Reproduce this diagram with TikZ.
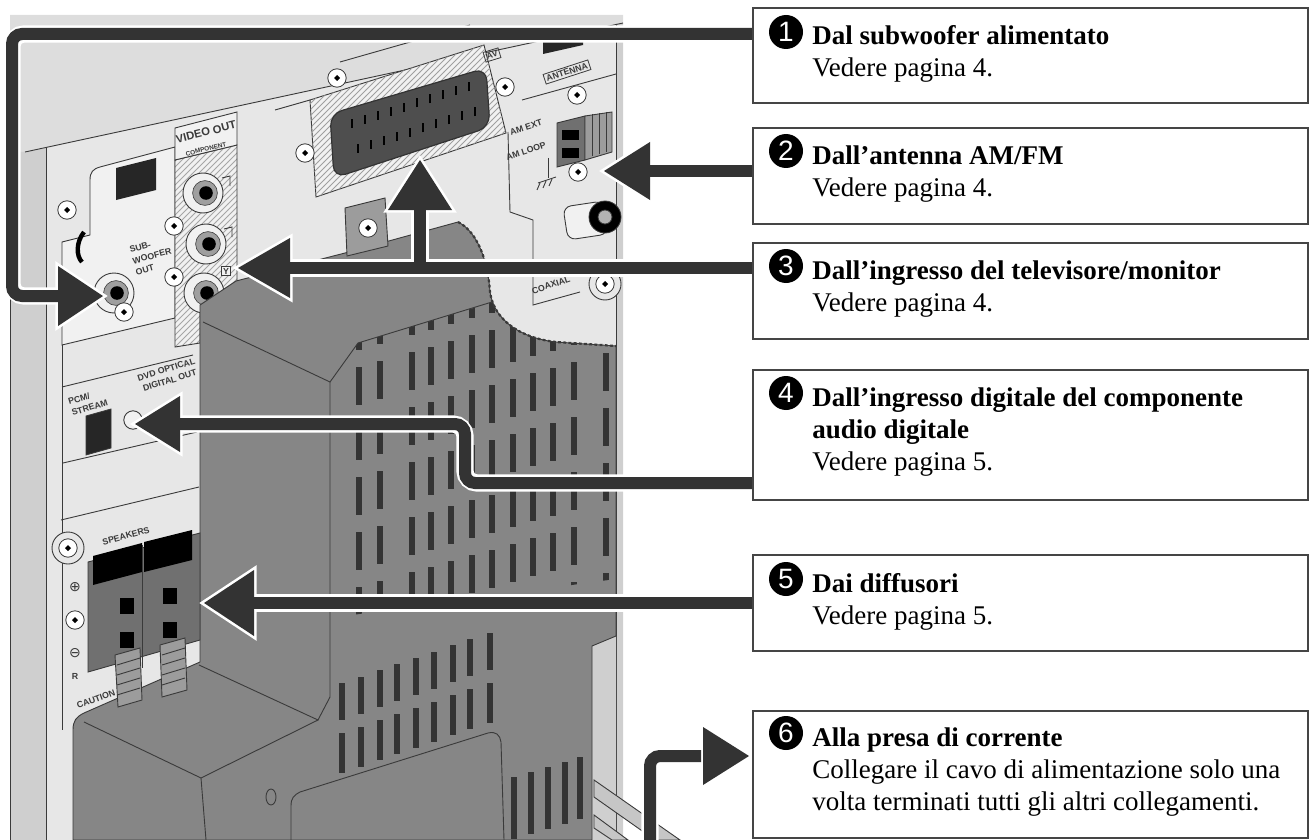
\documentclass[tikz,border=0pt]{standalone}
\usepackage{fontspec}
\setmainfont{Liberation Serif}
\setsansfont{Liberation Sans}
\newfontfamily\symfont{DejaVu Sans}
\usetikzlibrary{patterns}

\definecolor{devtop}{HTML}{DDDDDD}
\definecolor{devface}{HTML}{E7E7E7}
\definecolor{devlight}{HTML}{F1F1F1}
\definecolor{devside}{HTML}{CFCFCF}
\definecolor{bodyc}{HTML}{868686}
\definecolor{linec}{HTML}{3A3A3A}
\definecolor{ventc}{HTML}{343434}
\definecolor{arrowc}{HTML}{333333}
\definecolor{boxline}{HTML}{454545}
\definecolor{connc}{HTML}{4E4E4E}
\definecolor{midgray}{HTML}{9C9C9C}
\definecolor{termc}{HTML}{707070}

\newcommand{\bodyoutline}{(200,305) -- (236,281) -- (345,253) -- (458,222)
  .. controls (478,232) and (488,262) .. (490,292)
  .. controls (494,320) and (520,338) .. (556,342)
  -- (616,346) -- (616,636) -- (592,646) -- (592,840) -- (73,840) -- (73,730)
  .. controls (73,721) and (76,717) .. (84,713) -- (200,662) -- cycle}

\begin{document}
\begin{tikzpicture}[x=0.5pt,y=-0.5pt,
  tbox/.style={draw=boxline,line width=0.8pt,fill=white,anchor=north west,inner sep=0pt,minimum width=277.5pt},
  numc/.style={circle,fill=black,text=white,inner sep=0pt,minimum size=17pt,font=\sffamily\fontsize{14}{14}\selectfont},
  ttl/.style={anchor=base west,inner sep=0pt,font=\fontsize{13.5}{16}\selectfont\bfseries},
  txt/.style={anchor=base west,inner sep=0pt,font=\fontsize{13.5}{16}\selectfont},
  lbl/.style={inner sep=0pt,text=linec,align=center,font=\sffamily\bfseries\fontsize{4.4}{5.8}\selectfont},
  partln/.style={draw=linec,line width=0.45pt},
  shaftw/.style={line width=8.6pt,white,rounded corners=6pt},
  shaftd/.style={line width=6pt,arrowc,rounded corners=5pt},
  headw/.style={fill=white,draw=white,line width=2.6pt,line join=miter},
  headd/.style={fill=arrowc},
  screw/.pic={
    \filldraw[fill=white,draw=linec,line width=0.4pt] (0,0) circle[radius=4.6pt];
    \fill[black] (-3,0) -- (0,-3) -- (3,0) -- (0,3) -- cycle;},
  jack/.pic={
    \filldraw[fill=devlight,draw=linec,line width=0.45pt] (0,0) circle[radius=10pt];
    \filldraw[fill=gray!75,draw=linec,line width=0.3pt] (2,0) circle[radius=6.2pt];
    \fill[black] (3,0) circle[radius=3.4pt];}
]
\useasboundingbox (0,0) rectangle (1312,840);

% ---------------- device shell
\fill[devface] (10,15) rectangle (623,840);
\fill[devtop] (10,15) -- (623,15) -- (623,23) -- (25,152) -- (10,152) -- cycle;
\fill[devside] (10,152) -- (25,152) -- (46,148) -- (46,840) -- (10,840) -- cycle;
\fill[devside] (616,24) -- (623,23) -- (623,840) -- (616,840) -- cycle;
\draw[partln] (25,152) -- (623,23);
\draw[partln] (46,148) -- (46,840);
\draw[partln] (616,24) -- (616,840);
\draw[partln] (10,152) -- (10,840);
\fill[black!85] (543,40) -- (583,31) -- (583,45) -- (543,54) -- cycle;

% ---------------- sub-woofer panel
\filldraw[fill=devlight,partln] (62,345) -- (62,242) -- (90,235) -- (90,180)
  .. controls (90,172) and (93,169) .. (100,167) -- (175,147) -- (175,318) -- cycle;
\fill[black!85] (116,168) -- (156,158) -- (156,190) -- (116,200) -- cycle;
\draw[black,line width=2.2pt] (84,232) .. controls (76,242) and (76,256) .. (82,262);
\pic at (67,210) {screw};
\pic at (114,293) {jack};
\pic at (124,312) {screw};
\node[lbl,rotate=15,align=left] (lsub) at (152,256) {SUB-\\WOOFER\\OUT};

% ---------------- panel lines left
\draw[partln] (62,387) -- (193,355);
\draw[partln] (63,463) -- (197,432);
\draw[partln] (61,520) -- (199,487);
\draw[partln] (62,345) -- (62,730);

% ---------------- video out column
\fill[devlight] (175,160) -- (237,145) -- (237,285) -- (200,305) -- (200,343) -- (175,347) -- cycle;
\fill[pattern=north east lines,pattern color=gray!70] (175,160) -- (237,145) -- (237,285) -- (200,305) -- (200,343) -- (175,347) -- cycle;
\draw[partln] (175,160) -- (237,145) -- (237,285) -- (200,305) -- (200,343) -- (175,347) -- cycle;
\filldraw[fill=devlight,partln] (175,128) -- (237,112) -- (237,145) -- (175,160) -- cycle;
\node[lbl,rotate=14,font=\sffamily\bfseries\fontsize{5.6}{6}\selectfont] (lvo) at (206,132) {VIDEO OUT};
\node[lbl,rotate=14,font=\sffamily\bfseries\fontsize{3.2}{3.5}\selectfont] (lcomp) at (206,149) {COMPONENT};
\pic at (203,193) {jack};
\pic at (206,244) {jack};
\pic at (204,293) {jack};
\pic at (174,226) {screw};
\pic at (174,277) {screw};
\node[lbl,draw=linec,fill=devlight,inner sep=0.8pt] (ly) at (226,271) {Y};
\draw[partln] (222,178) -- (230,176) -- (230,186);
\draw[partln] (224,229) -- (232,227) -- (232,237);

% ---------------- SCART
\filldraw[fill=devlight,partln] (310,100) -- (484,45) -- (506,133) -- (316,197) -- cycle;
\fill[pattern=north east lines,pattern color=gray!75] (310,100) -- (484,45) -- (506,133) -- (316,197) -- cycle;
\filldraw[fill=connc,draw=black!80,line width=0.6pt,rounded corners=6pt] (330,114) -- (486,68) -- (490,127) -- (334,178) -- cycle;
\foreach \i in {0,...,9} {
  \draw[black,line width=1.2pt] (352+13*\i,{128-4.1*\i}) -- ++(0,-9);
  \draw[black,line width=1.2pt] (358+13*\i,{153-4.1*\i}) -- ++(0,-9);
}
\node[lbl,draw=linec,inner sep=1pt,rotate=17] (lav) at (492,55) {AV};
\pic at (337,78) {screw};
\pic at (505,87) {screw};
\pic at (305,153) {screw};
\draw[partln] (275,110) -- (310,100);
\draw[partln] (340,62) -- (470,25);

% ---------------- antenna panel
\draw[partln] (508,132) -- (510,212) -- (533,220) -- (533,305) -- (580,292);
\draw[partln] (522,100) -- (616,74);
\node[lbl,draw=linec,inner sep=1pt,rotate=18] (lant) at (567,72) {ANTENNA};
\pic at (577,95) {screw};
\node[lbl,rotate=18] (lamext) at (526,127) {AM EXT};
\node[lbl,rotate=18] (lamloop) at (526,151) {AM LOOP};
\filldraw[fill=termc,partln] (557,123) -- (585,116) -- (585,160) -- (557,167) -- cycle;
\filldraw[fill=midgray,partln] (585,116) -- (612,112) -- (612,152) -- (585,160) -- cycle;
\foreach \xx in {592,599,606} {\draw[partln] (\xx,{115-0.15*(\xx-585)}) -- (\xx,{158-0.3*(\xx-585)});}
\fill[black] (562,130) rectangle (579,140);
\fill[black] (562,148) rectangle (579,158);
\pic at (578,172) {screw};
\draw[partln] (548,158) -- (548,178);
\draw[partln] (538,183) -- (556,177);
\draw[partln] (540,183) -- (537,190) (546,181) -- (543,188) (552,179) -- (549,186);
\filldraw[fill=devlight,partln,rounded corners=4pt] (563,207) -- (603,201) -- (608,234) -- (568,240) -- cycle;
\filldraw[fill=black,draw=linec] (605,217) circle[radius=8pt];
\filldraw[fill=gray!60,draw=linec] (605,217) circle[radius=3.5pt];
\node[lbl,rotate=18] (lcoax) at (551,285) {COAXIAL};
\filldraw[fill=devface,partln] (605,284) circle[radius=8pt];
\pic at (605,284) {screw};

% ---------------- dark body
\fill[devside] (592,646) -- (616,636) -- (616,840) -- (592,840) -- cycle;
\fill[bodyc] \bodyoutline;
\begin{scope}
\clip \bodyoutline;
\begin{scope}
\clip (330,382) -- (358,343) -- (500,300) -- (623,262) -- (623,578) -- (330,618) -- cycle;
\foreach \xx in {359,380,412,431,451,472,492,513,533,553,574,606} {
  \foreach \k in {-2,...,6} {
    \fill[ventc] (\xx-3,{352-0.28*(\xx-412)+55*\k}) rectangle ++(6,38);
  }
}
\end{scope}
\foreach \xx in {342,361,380,397,416,434,453,470,490} {
  \fill[ventc] (\xx-3,{683-0.34*(\xx-342)}) rectangle ++(6,37);
  \fill[ventc] (\xx-3,{733-0.34*(\xx-342)}) rectangle ++(6,40);
}
\foreach \xx in {514,531,548,565,580} {
  \fill[ventc] (\xx-3,{777-0.3*(\xx-514)}) rectangle ++(6,62);
}
\draw[partln] (203,322) -- (330,382) -- (358,343) -- (505,298);
\draw[partln] (330,382) -- (330,697) -- (318,720) -- (199,665);
\draw[partln] (84,722) -- (201,778) -- (206,840);
\draw[partln] (201,778) -- (318,720);
\draw[partln] (291,840) -- (291,806) .. controls (291,798) and (294,795) .. (300,792) -- (488,733)
  .. controls (496,731) and (500,735) .. (501,742) -- (504,840);
\draw[partln] (271,797) ellipse (2.5pt and 4pt);
\end{scope}
\draw[partln] \bodyoutline;
\draw[linec,line width=1.1pt,dash pattern=on 1.4pt off 1.2pt] (458,222) .. controls (478,232) and (488,262) .. (490,292)
  .. controls (494,320) and (520,338) .. (556,342) -- (616,346);
\filldraw[fill=midgray,partln] (345,208) -- (385,198) -- (388,246) -- (347,256) -- cycle;
\pic at (368,228) {screw};
\filldraw[fill=gray!45,partln] (594,780) -- (680,840) -- (655,840) -- (594,797) -- cycle;
\filldraw[fill=gray!45,partln] (594,815) -- (628,840) -- (612,840) -- (594,828) -- cycle;

% ---------------- optical
\node[lbl,rotate=17,align=left] (lpcm) at (88,402) {PCM/\\STREAM};
\node[lbl,rotate=17] (ldvd) at (168,375) {DVD OPTICAL\\DIGITAL OUT};
\filldraw[fill=black!85,draw=linec] (86,416) -- (111,409) -- (111,448) -- (86,455) -- cycle;
\filldraw[fill=devlight,partln] (133,420) circle[radius=4.6pt];

% ---------------- speakers
\filldraw[fill=devface,partln] (68,548) circle[radius=8pt];
\pic at (68,548) {screw};
\node[lbl,rotate=15] (lspk) at (126,536) {SPEAKERS};
\filldraw[fill=termc,partln] (88,562) -- (200,533) -- (200,640) -- (88,672) -- cycle;
\fill[black] (93,556) -- (142,543) -- (142,572) -- (93,585) -- cycle;
\fill[black] (144,542) -- (192,530) -- (192,560) -- (144,572) -- cycle;
\fill[black] (120,598) rectangle ++(14,16);
\fill[black] (163,588) rectangle ++(14,16);
\fill[black] (120,632) rectangle ++(14,16);
\fill[black] (163,622) rectangle ++(14,16);
\draw[linec] (142,545) -- (142,668);
\filldraw[fill=midgray,partln] (115,655) -- (140,648) -- (142,700) -- (118,707) -- cycle;
\filldraw[fill=midgray,partln] (160,645) -- (185,638) -- (187,690) -- (162,697) -- cycle;
\foreach \d in {0,10,20,30} {
  \draw[partln] (117,665+\d) -- (140,658+\d);
  \draw[partln] (162,655+\d) -- (185,648+\d);
}
\node[inner sep=0pt,text=linec,font=\symfont\fontsize{7}{7}\selectfont] (splus) at (75,587) {⊕};
\pic at (75,620) {screw};
\node[inner sep=0pt,text=linec,font=\symfont\fontsize{7}{7}\selectfont] (sminus) at (75,653) {⊖};
\node[lbl] (lr) at (75,676) {R};
\node[lbl,rotate=20] (lcau) at (96,699) {CAUTION};

% ---------------- connector coordinates
\coordinate (s1) at (752,34);  \coordinate (c1) at (12,296);  \coordinate (h1) at (60,296);  \coordinate (t1) at (103,296);
\coordinate (s2) at (752,171); \coordinate (h2) at (648,171); \coordinate (t2) at (604,171);
\coordinate (s3) at (752,268); \coordinate (h3) at (288,268); \coordinate (t3) at (238,268);
\coordinate (j3) at (420,268); \coordinate (h3b) at (420,208); \coordinate (t3b) at (420,160);
\coordinate (s4) at (752,483); \coordinate (c4) at (465,424); \coordinate (h4) at (178,424); \coordinate (t4) at (135,424);
\coordinate (s5) at (752,603); \coordinate (h5) at (252,603); \coordinate (t5) at (204,603);
\coordinate (s6) at (650,846); \coordinate (h6) at (701,756); \coordinate (t6) at (749,756);

% white outlines
\draw[shaftw] (s1) -| (c1) -- (h1);
\draw[shaftw] (s2) -- (h2);
\draw[shaftw] (s3) -- (h3);
\draw[shaftw] (j3) -- (h3b);
\draw[shaftw] (s4) -| (c4) -- (h4);
\draw[shaftw] (s5) -- (h5);
\draw[shaftw] (s6) |- (h6);
\filldraw[headw] (t1) -- ++(-45,-30) -- ++(0,60) -- cycle;
\filldraw[headw] (t2) -- ++(46,-29) -- ++(0,58) -- cycle;
\filldraw[headw] (t3) -- ++(52,-30) -- ++(0,60) -- cycle;
\filldraw[headw] (t3b) -- ++(-32,50) -- ++(64,0) -- cycle;
\filldraw[headw] (t4) -- ++(45,-28) -- ++(0,56) -- cycle;
\filldraw[headw] (t5) -- ++(50,-33) -- ++(0,66) -- cycle;
\filldraw[headw] (t6) -- ++(-46,-29) -- ++(0,58) -- cycle;
% dark arrows
\draw[shaftd] (s1) -| (c1) -- (h1);
\draw[shaftd] (s2) -- (h2);
\draw[shaftd] (s3) -- (h3);
\draw[shaftd] (j3) -- (h3b);
\draw[shaftd] (s4) -| (c4) -- (h4);
\draw[shaftd] (s5) -- (h5);
\draw[shaftd] (s6) |- (h6);
\fill[headd] (t1) -- ++(-45,-30) -- ++(0,60) -- cycle;
\fill[headd] (t2) -- ++(46,-29) -- ++(0,58) -- cycle;
\fill[headd] (t3) -- ++(52,-30) -- ++(0,60) -- cycle;
\fill[headd] (t3b) -- ++(-32,50) -- ++(64,0) -- cycle;
\fill[headd] (t4) -- ++(45,-28) -- ++(0,56) -- cycle;
\fill[headd] (t5) -- ++(50,-33) -- ++(0,66) -- cycle;
\fill[headd] (t6) -- ++(-46,-29) -- ++(0,58) -- cycle;

% ---------------- text boxes
\node[tbox,minimum height=47.5pt] (b1) at (752,7) {};
\node[tbox,minimum height=48pt] (b2) at (752,127) {};
\node[tbox,minimum height=48pt] (b3) at (752,242) {};
\node[tbox,minimum height=65pt] (b4) at (752,369) {};
\node[tbox,minimum height=48pt] (b5) at (752,554) {};
\node[tbox,minimum height=63.5pt] (b6) at (752,710) {};

\node[numc] (n1) at (786,32) {1};
\node[ttl] (ti1) at (812,45) {Dal subwoofer alimentato};
\node[txt] (tx1) at (812,77) {Vedere pagina 4.};

\node[numc] (n2) at (786,151) {2};
\node[ttl] (ti2) at (812,164) {Dall’antenna AM/FM};
\node[txt] (tx2) at (812,196) {Vedere pagina 4.};

\node[numc] (n3) at (786,266) {3};
\node[ttl] (ti3) at (812,279) {Dall’ingresso del televisore/monitor};
\node[txt] (tx3) at (812,311) {Vedere pagina 4.};

\node[numc] (n4) at (786,393) {4};
\node[ttl] (ti4) at (812,406) {Dall’ingresso digitale del componente};
\node[ttl] (ti4b) at (812,438) {audio digitale};
\node[txt] (tx4) at (812,470) {Vedere pagina 5.};

\node[numc] (n5) at (786,579) {5};
\node[ttl] (ti5) at (812,592) {Dai diffusori};
\node[txt] (tx5) at (812,624) {Vedere pagina 5.};

\node[numc] (n6) at (786,733) {6};
\node[ttl] (ti6) at (812,746) {Alla presa di corrente};
\node[txt] (tx6) at (812,778) {Collegare il cavo di alimentazione solo una};
\node[txt] (tx6b) at (812,810) {volta terminati tutti gli altri collegamenti.};
\end{tikzpicture}
\end{document}
